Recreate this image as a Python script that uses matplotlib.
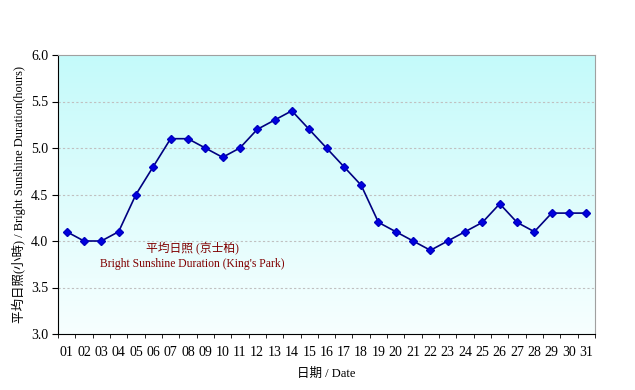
import numpy as np
import matplotlib
matplotlib.use("Agg")
import matplotlib.pyplot as plt
from matplotlib.colors import LinearSegmentedColormap

plt.rcParams['font.family'] = ['Liberation Serif', 'Noto Sans CJK TC']

days = ['%02d' % d for d in range(1, 32)]
sunshine = [4.1, 4.0, 4.0, 4.1, 4.5, 4.8, 5.1, 5.1, 5.0, 4.9,
            5.0, 5.2, 5.3, 5.4, 5.2, 5.0, 4.8, 4.6, 4.2, 4.1,
            4.0, 3.9, 4.0, 4.1, 4.2, 4.4, 4.2, 4.1, 4.3, 4.3, 4.3]

fig = plt.figure(figsize=(6.35, 3.9), dpi=100)
ax = fig.add_axes([58/635, 1-334/390, 537/635, 279/390])

x = np.arange(1, len(days) + 1)
ax.set_xlim(0.5, len(days) + 0.5)
ax.set_ylim(3.0, 6.0)

# gradient background
cmap = LinearSegmentedColormap.from_list('bg', ['#f7ffff', '#c4fafa'])
grad = np.linspace(0, 1, 256).reshape(-1, 1)
ax.imshow(grad, cmap=cmap, origin='lower', aspect='auto',
          extent=[0.5, len(days) + 0.5, 3.0, 6.0], zorder=0)

for yv in [3.5, 4.0, 4.5, 5.0, 5.5]:
    ax.axhline(yv, color='#c0c0c0', lw=0.8, ls=(0, (2, 2)), zorder=1)

ax.plot(x, sunshine, color='#000080', lw=1.2, marker='D', ms=4.5,
        mfc='#0000e0', mec='#0000c0', zorder=3)

ax.set_yticks([3.0, 3.5, 4.0, 4.5, 5.0, 5.5, 6.0])
ax.set_yticklabels(['%.1f' % v for v in [3.0, 3.5, 4.0, 4.5, 5.0, 5.5, 6.0]], fontsize=10)
ax.set_xticks(x)
ax.set_xticklabels(days, fontsize=10)
ax.set_xticks(np.arange(0.5, len(days) + 1, 1), minor=True)
ax.tick_params(axis='x', which='major', length=0, pad=9)
ax.tick_params(axis='x', which='minor', length=3, direction='out')
ax.tick_params(axis='y', length=4, direction='out', pad=3)

ax.spines['top'].set_color('#a0a0a0')
ax.spines['right'].set_color('#a0a0a0')
ax.spines['left'].set_color('black')
ax.spines['bottom'].set_color('black')

ax.set_ylabel('平均日照(小時) / Bright Sunshine Duration(hours)', fontsize=9)
ax.yaxis.set_label_coords(-32/537, 0.5)
ax.set_xlabel('日期 / Date', fontsize=9, labelpad=6)

ax.text(192/635, 1-248/390, '平均日照 (京士柏)', transform=fig.transFigure,
        ha='center', va='center', color='#800000', fontsize=8.5)
ax.text(192/635, 1-264/390, 'Bright Sunshine Duration (King\'s Park)', transform=fig.transFigure,
        ha='center', va='center', color='#800000', fontsize=8.4)

fig.savefig('out.png', dpi=100)
